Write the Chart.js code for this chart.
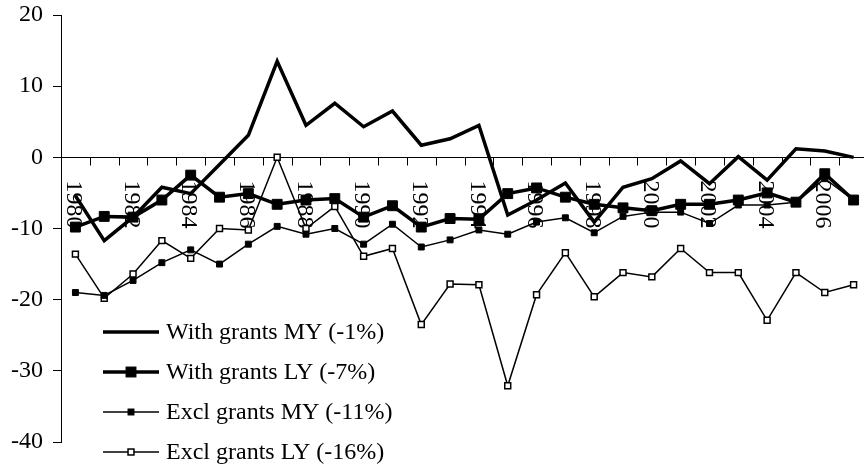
<!DOCTYPE html>
<html>
<head>
<meta charset="utf-8">
<script src="https://cdn.jsdelivr.net/npm/chart.js@4.4.1/dist/chart.umd.min.js"></script>
<style>
  html, body { margin: 0; padding: 0; background: #fff; overflow: hidden; }
  #wrap { width: 864px; height: 470px; overflow: hidden; }
</style>
</head>
<body>
<div id="wrap"><canvas id="chart" width="876" height="470"></canvas></div>
<script>
const years = [
  '1980', '1981', '1982', '1983', '1984', '1985', '1986', '1987', '1988', '1989',
  '1990', '1991', '1992', '1993', '1994', '1995', '1996', '1997', '1998', '1999',
  '2000', '2001', '2002', '2003', '2004', '2005', '2006', '2007'
];

const withGrantsMY = [
  -5.4, -11.7, -8.4, -4.2, -5.1, -1.0, 3.1, 13.5, 4.5, 7.6,
  4.3, 6.5, 1.7, 2.6, 4.5, -8.1, -6.0, -3.6, -9.1, -4.2,
  -3.0, -0.5, -3.7, 0.1, -3.2, 1.2, 0.9, 0.0
];
const withGrantsLY = [
  -9.8, -8.3, -8.4, -6.0, -2.5, -5.6, -5.1, -6.6, -6.0, -5.8,
  -8.4, -6.8, -9.8, -8.6, -8.7, -5.1, -4.3, -5.6, -6.6, -7.1,
  -7.5, -6.6, -6.6, -6.0, -5.0, -6.3, -2.3, -6.0
];
const exclGrantsMY = [
  -19.0, -19.4, -17.3, -14.8, -13.0, -15.0, -12.2, -9.7, -10.8, -10.0,
  -12.2, -9.4, -12.6, -11.6, -10.2, -10.8, -9.1, -8.5, -10.6, -8.3,
  -7.7, -7.7, -9.3, -6.7, -6.7, -6.3, -3.0, -6.0
];
const exclGrantsLY = [
  -13.6, -19.8, -16.4, -11.7, -14.2, -10.0, -10.2, 0.0, -10.0, -6.9,
  -13.9, -12.8, -23.5, -17.8, -17.9, -32.1, -19.3, -13.4, -19.6, -16.2,
  -16.8, -12.8, -16.2, -16.2, -22.9, -16.2, -19.0, -17.9
];

const seriesLabels = [
  'With grants MY (-1%)',
  'With grants LY (-7%)',
  'Excl grants MY (-11%)',
  'Excl grants LY (-16%)'
];

const FONT = '"Liberation Serif", "Times New Roman", serif';

// x axis sits on the zero line, year labels read top to bottom
const zeroAxis = {
  id: 'zeroAxis',
  beforeDatasetsDraw(chart) {
    const { ctx, chartArea, scales: { x, y } } = chart;
    const y0 = Math.round(y.getPixelForValue(0)) + 0.5;
    const half = (x.getPixelForValue(1) - x.getPixelForValue(0)) / 2;

    ctx.save();
    ctx.strokeStyle = '#000';
    ctx.lineWidth = 1;
    ctx.beginPath();
    ctx.moveTo(chartArea.left, y0);
    ctx.lineTo(chartArea.right, y0);
    for (let i = 0; i <= years.length; i++) {
      const px = Math.round(x.getPixelForValue(i) - half) + 0.5;
      ctx.moveTo(px, y0);
      ctx.lineTo(px, y0 + 8);
    }
    ctx.stroke();

    ctx.fillStyle = '#000';
    ctx.font = '24px ' + FONT;
    ctx.textAlign = 'left';
    ctx.textBaseline = 'middle';
    years.forEach((year, i) => {
      if (i % 2) return;
      ctx.save();
      ctx.translate(x.getPixelForValue(i) - 2, y0 + 23);
      ctx.rotate(Math.PI / 2);
      ctx.fillText(year, 0, 0);
      ctx.restore();
    });
    ctx.restore();
  }
};

// legend drawn inside the plot, bottom left
const innerLegend = {
  id: 'innerLegend',
  afterDraw(chart) {
    const { ctx } = chart;
    const x1 = 103, x2 = 159, textX = 166;
    const rows = [332, 372, 412, 452];

    ctx.save();
    chart.data.datasets.forEach((ds, i) => {
      const rowY = rows[i];
      ctx.strokeStyle = '#000';
      ctx.lineWidth = ds.borderWidth;
      ctx.beginPath();
      ctx.moveTo(x1, rowY);
      ctx.lineTo(x2, rowY);
      ctx.stroke();

      if (ds.pointRadius > 0) {
        const side = ds.pointRadius * Math.SQRT2;
        const cx = (x1 + x2) / 2;
        ctx.fillStyle = ds.pointBackgroundColor;
        ctx.fillRect(cx - side / 2, rowY - side / 2, side, side);
        ctx.lineWidth = ds.pointBorderWidth;
        ctx.strokeStyle = '#000';
        ctx.strokeRect(cx - side / 2, rowY - side / 2, side, side);
      }

      ctx.fillStyle = '#000';
      ctx.font = '24px ' + FONT;
      ctx.textAlign = 'left';
      ctx.textBaseline = 'middle';
      ctx.fillText(ds.label, textX, rowY + 1);
    });
    ctx.restore();
  }
};

const datasets = [
  {
    label: seriesLabels[0],
    data: withGrantsMY,
    borderColor: '#000',
    borderWidth: 3.5,
    pointRadius: 0,
    pointBorderWidth: 0,
    pointBackgroundColor: '#000'
  },
  {
    label: seriesLabels[1],
    data: withGrantsLY,
    borderColor: '#000',
    borderWidth: 3.5,
    pointStyle: 'rect',
    pointRadius: 7,
    pointBorderWidth: 1,
    pointBackgroundColor: '#000',
    pointBorderColor: '#000'
  },
  {
    label: seriesLabels[2],
    data: exclGrantsMY,
    borderColor: '#000',
    borderWidth: 1.5,
    pointStyle: 'rect',
    pointRadius: 4.2,
    pointBorderWidth: 1,
    pointBackgroundColor: '#000',
    pointBorderColor: '#000'
  },
  {
    label: seriesLabels[3],
    data: exclGrantsLY,
    borderColor: '#000',
    borderWidth: 1.5,
    pointStyle: 'rect',
    pointRadius: 4.2,
    pointBorderWidth: 1.5,
    pointBackgroundColor: '#fff',
    pointBorderColor: '#000'
  }
];

new Chart(document.getElementById('chart'), {
  type: 'line',
  data: { labels: years, datasets },
  options: {
    responsive: false,
    animation: false,
    layout: { padding: { top: 15, right: 3, bottom: 28, left: 0 } },
    plugins: {
      legend: { display: false },
      tooltip: { enabled: false }
    },
    elements: { line: { tension: 0 } },
    scales: {
      x: {
        type: 'category',
        offset: true,
        display: false
      },
      y: {
        min: -40,
        max: 20,
        afterFit: scale => {
          scale.width = 61;
          scale.paddingTop = 0;
          scale.paddingBottom = 0;
        },
        ticks: {
          stepSize: 10,
          padding: 10,
          color: '#000',
          font: { family: FONT, size: 24 }
        },
        grid: {
          drawOnChartArea: false,
          drawTicks: true,
          tickLength: 8,
          color: '#000'
        },
        border: { display: true, color: '#000', width: 1 }
      }
    }
  },
  plugins: [zeroAxis, innerLegend]
});
</script>
</body>
</html>
